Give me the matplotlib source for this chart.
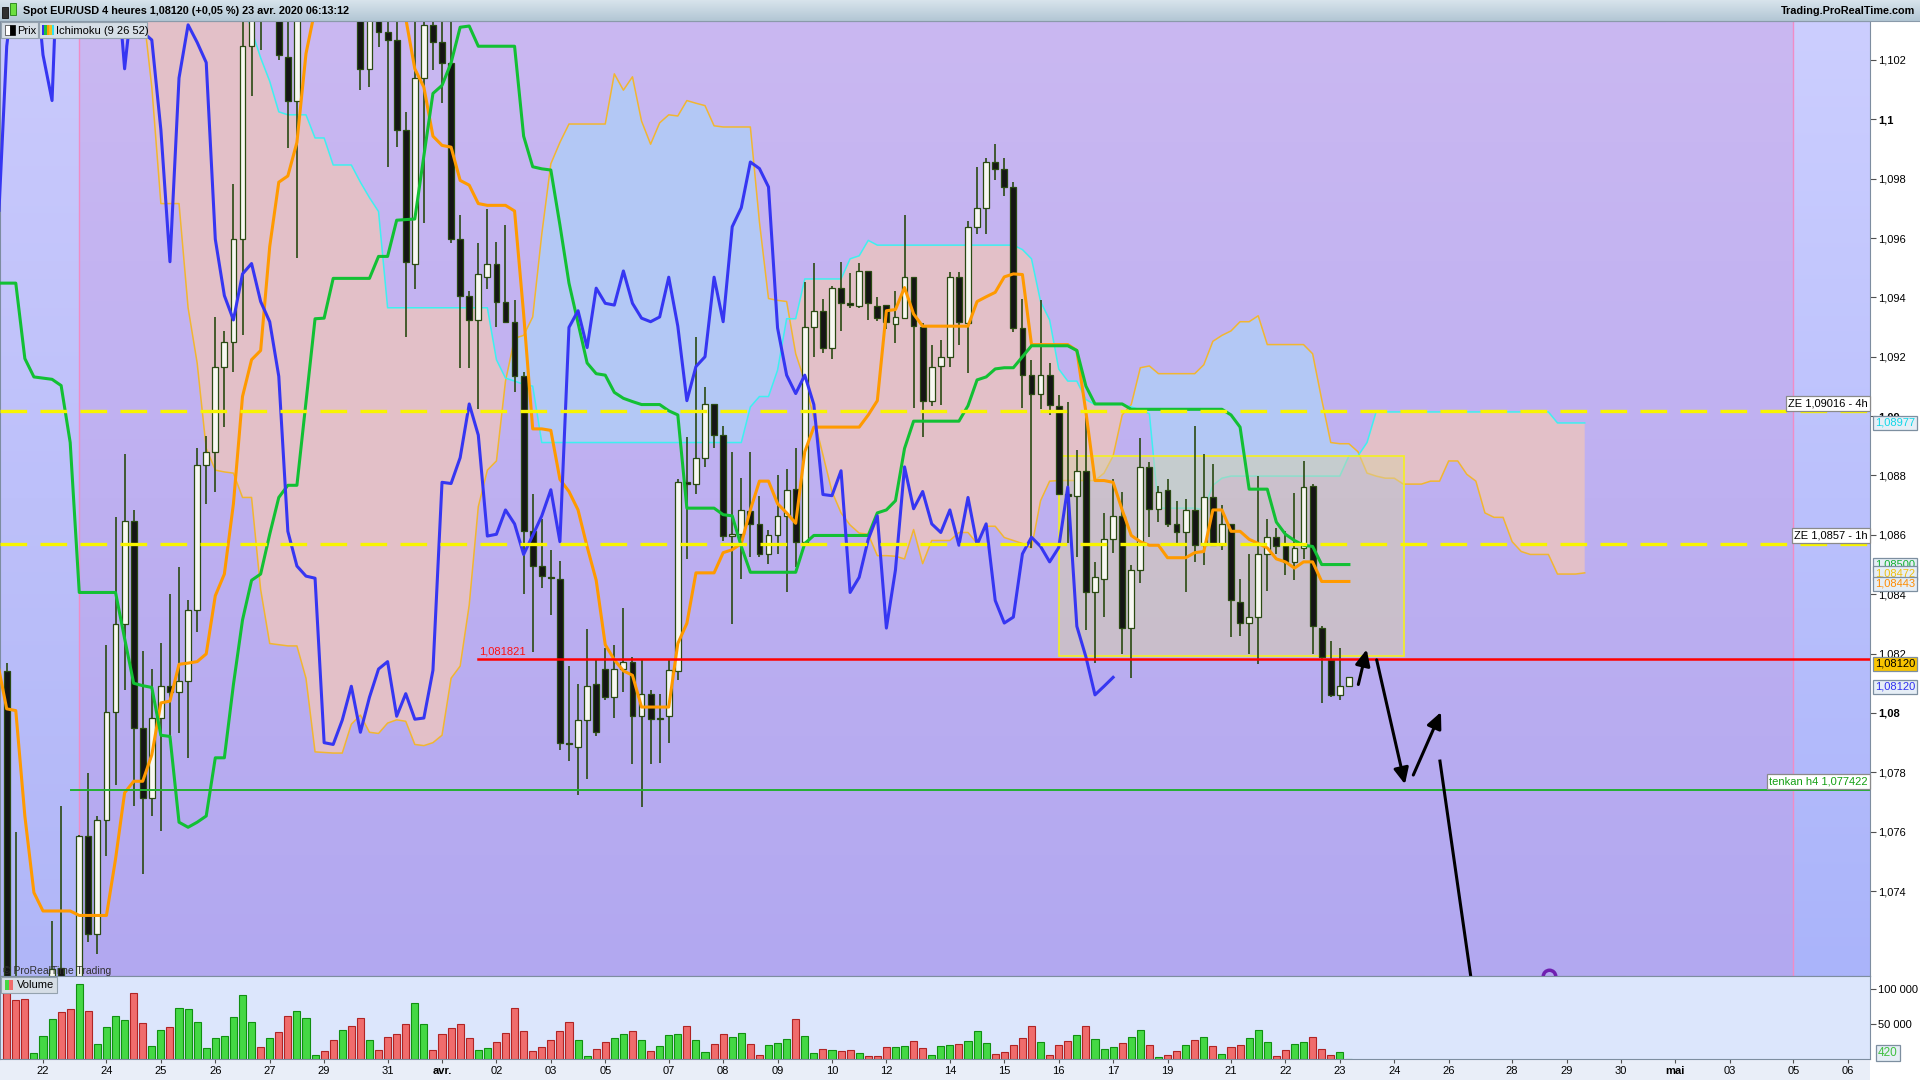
import numpy as np
import matplotlib.pyplot as plt
from matplotlib.patches import Rectangle
from matplotlib.transforms import blended_transform_factory

# ---------------------------------------------------------------------------
# EUR/USD 4h candles, bar index 0 = Sunday 22 March 2020
# ---------------------------------------------------------------------------
first_bar = -4
opens = [
    1.08141, 1.07000, 1.06900, 1.06800, 1.06950, 1.07000, 1.07141, 1.07000, 1.06900, 1.07585,
    1.07257, 1.07638, 1.08004, 1.08301, 1.08647, 1.07948, 1.07715, 1.07983, 1.08090, 1.08072,
    1.08107, 1.08346, 1.08835, 1.08880, 1.09167, 1.09248, 1.09596, 1.10246, 1.10500, 1.10400,
    1.10550, 1.10211, 1.10063, 1.10850, 1.11100, 1.11400, 1.11250, 1.10900, 1.11000, 1.10550,
    1.10170, 1.10450, 1.10294, 1.10267, 1.09964, 1.09514, 1.10139, 1.10318, 1.10259, 1.10191,
    1.09596, 1.09406, 1.09324, 1.09468, 1.09514, 1.09386, 1.09318, 1.09134, 1.08612, 1.08495,
    1.08458, 1.08453, 1.07900, 1.07886, 1.07976, 1.08096, 1.08148, 1.08053, 1.08148, 1.08173,
    1.07989, 1.08065, 1.07979, 1.07989, 1.08142, 1.08777, 1.08773, 1.08860, 1.09041, 1.08936,
    1.08596, 1.08602, 1.08680, 1.08637, 1.08534, 1.08598, 1.08664, 1.08756, 1.08577, 1.09299,
    1.09355, 1.09231, 1.09431, 1.09380, 1.09370, 1.09489, 1.09371, 1.09375, 1.09312, 1.09330,
    1.09468, 1.09299, 1.09052, 1.09169, 1.09200, 1.09468, 1.09314, 1.09638, 1.09702, 1.09856,
    1.09834, 1.09772, 1.09297, 1.09138, 1.09076, 1.09138, 1.09035, 1.08736, 1.08732, 1.08816,
    1.08406, 1.08453, 1.08585, 1.08664, 1.08286, 1.08482, 1.08829, 1.08688, 1.08752, 1.08637,
    1.08608, 1.08684, 1.08565, 1.08726, 1.08567, 1.08637, 1.08375, 1.08303, 1.08323, 1.08536,
    1.08592, 1.08561, 1.08509, 1.08557, 1.08763, 1.08286, 1.08179, 1.08061, 1.08090,
]
highs = [
    1.08170, 1.07599, 1.07050, 1.07000, 1.07080, 1.07298, 1.07686, 1.07100, 1.07590, 1.07797,
    1.07653, 1.08230, 1.08660, 1.08874, 1.08684, 1.08210, 1.08148, 1.08236, 1.08402, 1.08493,
    1.08379, 1.08891, 1.08932, 1.09334, 1.09287, 1.09782, 1.10340, 1.10600, 1.10650, 1.10700,
    1.10650, 1.10360, 1.10950, 1.11200, 1.11470, 1.11450, 1.11300, 1.11100, 1.11050, 1.10600,
    1.10550, 1.10500, 1.10400, 1.10350, 1.10026, 1.10340, 1.10450, 1.10400, 1.10400, 1.10400,
    1.09679, 1.09423, 1.09582, 1.09699, 1.09588, 1.09644, 1.09392, 1.09149, 1.08736, 1.08653,
    1.08550, 1.08511, 1.08158, 1.08096, 1.08282, 1.08183, 1.08220, 1.08230, 1.08354, 1.08189,
    1.08179, 1.08076, 1.08065, 1.08179, 1.08788, 1.08928, 1.09266, 1.09097, 1.09041, 1.08967,
    1.08878, 1.08792, 1.08878, 1.08730, 1.08618, 1.08802, 1.08823, 1.08891, 1.09452, 1.09516,
    1.09394, 1.09437, 1.09520, 1.09483, 1.09516, 1.09489, 1.09402, 1.09375, 1.09421, 1.09679,
    1.09468, 1.09314, 1.09238, 1.09258, 1.09485, 1.09485, 1.09658, 1.09840, 1.09871, 1.09916,
    1.09871, 1.09788, 1.09396, 1.09190, 1.09390, 1.09180, 1.09072, 1.09046, 1.08885, 1.09010,
    1.08509, 1.08674, 1.08788, 1.08746, 1.08499, 1.08926, 1.08845, 1.08763, 1.08788, 1.08715,
    1.08721, 1.08967, 1.08874, 1.08839, 1.08701, 1.08637, 1.08453, 1.08536, 1.08798, 1.08653,
    1.08622, 1.08612, 1.08740, 1.08849, 1.08773, 1.08292, 1.08241, 1.08220, 1.08120,
]
lows = [
    1.06900, 1.06800, 1.06600, 1.06750, 1.06800, 1.06900, 1.06800, 1.06650, 1.06800, 1.07230,
    1.07188, 1.07519, 1.07756, 1.08076, 1.07688, 1.07457, 1.07653, 1.07601, 1.07921, 1.07931,
    1.07849, 1.08272, 1.08705, 1.08746, 1.08963, 1.09149, 1.09272, 1.10077, 1.10232, 1.10350,
    1.10200, 1.09902, 1.09534, 1.10750, 1.11000, 1.11150, 1.10800, 1.10700, 1.10450, 1.10098,
    1.10108, 1.10242, 1.09840, 1.09906, 1.09266, 1.09427, 1.09650, 1.10166, 1.10056, 1.09582,
    1.09163, 1.09163, 1.09025, 1.09427, 1.09299, 1.09318, 1.09080, 1.08402, 1.08204, 1.08420,
    1.08329, 1.07875, 1.07838, 1.07725, 1.07776, 1.07921, 1.08045, 1.07983, 1.08070, 1.07828,
    1.07684, 1.07828, 1.07832, 1.07900, 1.08111, 1.08519, 1.08736, 1.08829, 1.08891, 1.08581,
    1.08299, 1.08453, 1.08525, 1.08525, 1.08503, 1.08534, 1.08406, 1.08493, 1.08577, 1.09200,
    1.09211, 1.09194, 1.09287, 1.09365, 1.09365, 1.09324, 1.09320, 1.09293, 1.09246, 1.09330,
    1.09029, 1.08928, 1.09035, 1.09039, 1.09165, 1.09238, 1.09145, 1.09613, 1.09613, 1.09794,
    1.09743, 1.09283, 1.09029, 1.08556, 1.09025, 1.09004, 1.08736, 1.08571, 1.08525, 1.08278,
    1.08169, 1.08323, 1.08540, 1.08200, 1.08117, 1.08437, 1.08592, 1.08643, 1.08627, 1.08561,
    1.08406, 1.08509, 1.08499, 1.08567, 1.08550, 1.08257, 1.08261, 1.08200, 1.08165, 1.08412,
    1.08536, 1.08464, 1.08447, 1.08519, 1.08200, 1.08034, 1.08055, 1.08045, 1.08086,
]
closes = [
    1.07000, 1.06900, 1.06800, 1.06950, 1.07050, 1.07137, 1.07000, 1.06900, 1.07585, 1.07257,
    1.07638, 1.08004, 1.08301, 1.08647, 1.07948, 1.07715, 1.07983, 1.08090, 1.08072, 1.08107,
    1.08346, 1.08835, 1.08880, 1.09167, 1.09248, 1.09596, 1.10246, 1.10500, 1.10400, 1.10550,
    1.10217, 1.10063, 1.10850, 1.11100, 1.11400, 1.11250, 1.10900, 1.11000, 1.10550, 1.10170,
    1.10450, 1.10294, 1.10267, 1.09964, 1.09520, 1.10139, 1.10318, 1.10259, 1.10191, 1.09596,
    1.09406, 1.09324, 1.09479, 1.09514, 1.09386, 1.09318, 1.09134, 1.08612, 1.08495, 1.08461,
    1.08454, 1.07900, 1.07894, 1.07976, 1.08090, 1.07935, 1.08053, 1.08148, 1.08173, 1.07989,
    1.08065, 1.07979, 1.07983, 1.08144, 1.08777, 1.08773, 1.08860, 1.09041, 1.08936, 1.08596,
    1.08602, 1.08684, 1.08637, 1.08534, 1.08598, 1.08664, 1.08752, 1.08577, 1.09299, 1.09355,
    1.09231, 1.09431, 1.09380, 1.09374, 1.09489, 1.09380, 1.09330, 1.09318, 1.09334, 1.09468,
    1.09303, 1.09052, 1.09167, 1.09200, 1.09468, 1.09318, 1.09638, 1.09702, 1.09856, 1.09834,
    1.09772, 1.09297, 1.09138, 1.09076, 1.09138, 1.09039, 1.08736, 1.08732, 1.08816, 1.08406,
    1.08457, 1.08585, 1.08664, 1.08286, 1.08482, 1.08829, 1.08688, 1.08746, 1.08637, 1.08608,
    1.08684, 1.08565, 1.08726, 1.08567, 1.08637, 1.08379, 1.08303, 1.08323, 1.08536, 1.08592,
    1.08561, 1.08509, 1.08557, 1.08761, 1.08292, 1.08189, 1.08061, 1.08090, 1.08120,
]
volumes = [
    93870, 84430, 85850, 8020, 33020, 57550, 66980, 71700, 107080, 68400,
    20750, 45750, 61320, 55660, 93870, 51420, 18870, 41510, 45750, 72640,
    71700, 52830, 16040, 30190, 33020, 59910, 91040, 52830, 17450, 30190,
    38680, 61320, 68400, 58490, 6130, 11790, 27360, 41510, 47170, 58490,
    27360, 13210, 31600, 35850, 50000, 79720, 50000, 12740, 35850, 44340,
    50000, 30190, 13210, 16040, 24530, 37740, 72640, 40090, 11790, 17450,
    27360, 40090, 52830, 27360, 4720, 14620, 24530, 30190, 35850, 40090,
    27360, 11790, 18870, 34430, 35850, 47170, 27360, 10380, 21700, 35850,
    31600, 37740, 21700, 6130, 20280, 23110, 28770, 57080, 33020, 8960,
    14620, 13210, 11790, 13210, 8960, 4720, 4720, 17450, 17450, 18870,
    25940, 16040, 6130, 18870, 20280, 20750, 25940, 40090, 23110, 7550,
    10380, 20280, 30190, 47170, 24530, 6130, 20280, 25940, 34430, 47170,
    28770, 14620, 17450, 23110, 31600, 41510, 20280, 3300, 6130, 11790,
    20280, 27360, 31600, 18870, 7550, 17450, 20280, 30190, 41510, 24530,
    4720, 13210, 21700, 24530, 31600, 14620, 6130, 10380, 420,
]

# Ichimoku (9 26 52), lines start at bar -5
first_line_bar = -5
tenkan = [
    1.08168, 1.08014, 1.08008, 1.07653, 1.07395, 1.07333, 1.07333, 1.07333, 1.07333, 1.07318,
    1.07318, 1.07318, 1.07318, 1.07508, 1.07731, 1.07770, 1.07770, 1.07859, 1.08034, 1.08040,
    1.08164, 1.08168, 1.08173, 1.08199, 1.08395, 1.08468, 1.08705, 1.09066, 1.09190, 1.09221,
    1.09571, 1.09788, 1.09809, 1.09922, 1.10221, 1.10370, 1.10690, 1.10500, 1.10500, 1.10500,
    1.10500, 1.10500, 1.10780, 1.10660, 1.10650, 1.10340, 1.10170, 1.10108, 1.09943, 1.09912,
    1.09906, 1.09794, 1.09778, 1.09716, 1.09710, 1.09710, 1.09710, 1.09691, 1.09344, 1.08957,
    1.08957, 1.08952, 1.08787, 1.08746, 1.08684, 1.08560, 1.08447, 1.08230, 1.08179, 1.08142,
    1.08127, 1.08020, 1.08020, 1.08020, 1.08020, 1.08234, 1.08302, 1.08472, 1.08472, 1.08472,
    1.08540, 1.08550, 1.08571, 1.08684, 1.08781, 1.08781, 1.08705, 1.08674, 1.08639, 1.08880,
    1.08963, 1.08963, 1.08963, 1.08963, 1.08963, 1.08963, 1.09004, 1.09052, 1.09355, 1.09359,
    1.09433, 1.09344, 1.09303, 1.09303, 1.09303, 1.09303, 1.09303, 1.09303, 1.09386, 1.09402,
    1.09417, 1.09469, 1.09479, 1.09477, 1.09241, 1.09241, 1.09241, 1.09241, 1.09241, 1.09221,
    1.09014, 1.08783, 1.08783, 1.08777, 1.08684, 1.08598, 1.08577, 1.08565, 1.08565, 1.08523,
    1.08523, 1.08523, 1.08540, 1.08544, 1.08684, 1.08684, 1.08612, 1.08612, 1.08585, 1.08571,
    1.08556, 1.08519, 1.08509, 1.08488, 1.08509, 1.08509, 1.08443, 1.08443, 1.08443, 1.08443,
]
kijun = [
    1.09448, 1.09448, 1.09448, 1.09194, 1.09132, 1.09128, 1.09124, 1.09103, 1.08911, 1.08406,
    1.08406, 1.08406, 1.08406, 1.08406, 1.08251, 1.08100, 1.08092, 1.08086, 1.07925, 1.07921,
    1.07632, 1.07615, 1.07632, 1.07653, 1.07849, 1.07849, 1.08096, 1.08313, 1.08447, 1.08468,
    1.08602, 1.08726, 1.08767, 1.08767, 1.09047, 1.09328, 1.09330, 1.09464, 1.09464, 1.09464,
    1.09464, 1.09464, 1.09538, 1.09538, 1.09660, 1.09662, 1.09664, 1.09877, 1.10087, 1.10114,
    1.10190, 1.10310, 1.10314, 1.10246, 1.10246, 1.10246, 1.10246, 1.10246, 1.09943, 1.09840,
    1.09833, 1.09829, 1.09644, 1.09448, 1.09314, 1.09179, 1.09143, 1.09138, 1.09080, 1.09060,
    1.09049, 1.09039, 1.09039, 1.09039, 1.09018, 1.09004, 1.08690, 1.08690, 1.08690, 1.08690,
    1.08668, 1.08664, 1.08561, 1.08474, 1.08474, 1.08474, 1.08474, 1.08474, 1.08474, 1.08571,
    1.08598, 1.08598, 1.08598, 1.08598, 1.08598, 1.08598, 1.08598, 1.08674, 1.08684, 1.08715,
    1.08891, 1.08983, 1.08983, 1.08983, 1.08983, 1.08983, 1.08983, 1.09035, 1.09122, 1.09132,
    1.09159, 1.09163, 1.09163, 1.09200, 1.09237, 1.09237, 1.09237, 1.09237, 1.09237, 1.09221,
    1.09101, 1.09041, 1.09041, 1.09041, 1.09041, 1.09023, 1.09023, 1.09023, 1.09023, 1.09023,
    1.09023, 1.09023, 1.09023, 1.09023, 1.09023, 1.09023, 1.09004, 1.08963, 1.08754, 1.08754,
    1.08754, 1.08643, 1.08602, 1.08581, 1.08565, 1.08561, 1.08500, 1.08500, 1.08500, 1.08500,
]
span_a = [
    1.10800, 1.10800, 1.10800, 1.10800, 1.10800, 1.10800, 1.10800, 1.10800, 1.10800, 1.10800,
    1.10800, 1.10800, 1.10800, 1.10800, 1.10800, 1.10800, 1.10380, 1.10108, 1.09716, 1.09716,
    1.09716, 1.09365, 1.09179, 1.08891, 1.08818, 1.08812, 1.08808, 1.08726, 1.08726, 1.08416,
    1.08234, 1.08230, 1.08226, 1.08226, 1.08117, 1.07869, 1.07867, 1.07865, 1.07865, 1.07962,
    1.07993, 1.07935, 1.07931, 1.07966, 1.07977, 1.07972, 1.07894, 1.07890, 1.07900, 1.07925,
    1.08117, 1.08158, 1.08364, 1.08695, 1.08818, 1.08849, 1.09118, 1.09262, 1.09272, 1.09334,
    1.09613, 1.09850, 1.09922, 1.09984, 1.09984, 1.09984, 1.09984, 1.09984, 1.10153, 1.10098,
    1.10143, 1.09994, 1.09916, 1.09988, 1.10015, 1.10011, 1.10063, 1.10054, 1.10046, 1.09978,
    1.09974, 1.09974, 1.09974, 1.09974, 1.09654, 1.09396, 1.09390, 1.09386, 1.09210, 1.09118,
    1.08994, 1.08870, 1.08746, 1.08674, 1.08633, 1.08606, 1.08602, 1.08530, 1.08530, 1.08528,
    1.08519, 1.08618, 1.08503, 1.08581, 1.08581, 1.08581, 1.08608, 1.08608, 1.08571, 1.08629,
    1.08629, 1.08591, 1.08581, 1.08571, 1.08556, 1.08715, 1.08781, 1.08783, 1.08783, 1.08783,
    1.08783, 1.08783, 1.08808, 1.08866, 1.09004, 1.09039, 1.09163, 1.09169, 1.09143, 1.09143,
    1.09143, 1.09143, 1.09143, 1.09173, 1.09252, 1.09272, 1.09287, 1.09318, 1.09318, 1.09338,
    1.09241, 1.09241, 1.09241, 1.09241, 1.09241, 1.09210, 1.09056, 1.08911, 1.08907, 1.08907,
    1.08880, 1.08808, 1.08798, 1.08791, 1.08791, 1.08771, 1.08771, 1.08771, 1.08781, 1.08781,
    1.08849, 1.08849, 1.08804, 1.08781, 1.08674, 1.08659, 1.08659, 1.08577, 1.08544, 1.08534,
    1.08534, 1.08534, 1.08468, 1.08468, 1.08468, 1.08472,
]
span_b = [
    1.10800, 1.10800, 1.10800, 1.10800, 1.10800, 1.10800, 1.10800, 1.10800, 1.10800, 1.10800,
    1.10800, 1.10800, 1.10800, 1.10800, 1.10800, 1.10800, 1.10800, 1.10800, 1.10800, 1.10800,
    1.10800, 1.10800, 1.10800, 1.10800, 1.10800, 1.10800, 1.10800, 1.10400, 1.10300, 1.10207,
    1.10128, 1.10025, 1.10015, 1.10015, 1.10015, 1.09937, 1.09937, 1.09846, 1.09846, 1.09846,
    1.09788, 1.09736, 1.09689, 1.09365, 1.09365, 1.09365, 1.09365, 1.09365, 1.09365, 1.09365,
    1.09365, 1.09365, 1.09365, 1.09365, 1.09365, 1.09190, 1.09128, 1.09118, 1.09107, 1.09101,
    1.08911, 1.08911, 1.08911, 1.08911, 1.08911, 1.08911, 1.08911, 1.08911, 1.08911, 1.08911,
    1.08911, 1.08911, 1.08911, 1.08911, 1.08911, 1.08911, 1.08911, 1.08911, 1.08911, 1.08911,
    1.08911, 1.08911, 1.08911, 1.09031, 1.09066, 1.09066, 1.09155, 1.09328, 1.09328, 1.09462,
    1.09462, 1.09462, 1.09462, 1.09462, 1.09530, 1.09540, 1.09592, 1.09576, 1.09576, 1.09576,
    1.09576, 1.09576, 1.09576, 1.09576, 1.09576, 1.09576, 1.09576, 1.09576, 1.09576, 1.09576,
    1.09576, 1.09576, 1.09576, 1.09561, 1.09530, 1.09386, 1.09324, 1.09159, 1.09118, 1.09118,
    1.09056, 1.09039, 1.09039, 1.09039, 1.09039, 1.09031, 1.09021, 1.09008, 1.08690, 1.08690,
    1.08690, 1.08690, 1.08690, 1.08684, 1.08767, 1.08791, 1.08798, 1.08798, 1.08798, 1.08798,
    1.08798, 1.08798, 1.08798, 1.08798, 1.08798, 1.08798, 1.08798, 1.08798, 1.08798, 1.08866,
    1.08866, 1.08911, 1.09014, 1.09014, 1.09014, 1.09014, 1.09014, 1.09014, 1.09014, 1.09014,
    1.09014, 1.09014, 1.09014, 1.09014, 1.09014, 1.09014, 1.09014, 1.09014, 1.09014, 1.09014,
    1.09014, 1.09014, 1.08977, 1.08977, 1.08977, 1.08977,
]
chikou_shift = 26

# date axis
date_ticks = [0, 7, 13, 19, 25, 31, 38, 44, 50, 56, 62, 69, 75, 81, 87, 93, 100,
              106, 112, 118, 124, 131, 137, 143, 149, 155, 162, 168, 174, 180, 186, 193, 199]
date_labels = ['22', '24', '25', '26', '27', '29', '31', 'avr.', '02', '03', '05', '07', '08',
               '09', '10', '12', '14', '15', '16', '17', '19', '21', '22', '23', '24', '26',
               '28', '29', '30', 'mai', '03', '05', '06']

# drawn objects
ze_levels = [1.09016, 1.0857]
ze_texts = ['ZE 1,09016 - 4h', 'ZE 1,0857 - 1h']
support_level = 1.081821
tenkan_h4_level = 1.077422
zone = (112.0, 150.1, 1.08192, 1.08867)          # x0, x1, y0, y1
arrows = [(145.04, 1.08096, 145.96, 1.08214),
          (147.06, 1.08179, 150.18, 1.07760),
          (151.1, 1.07791, 154.15, 1.08003)]
long_stroke = ([154.04, 157.73], [1.07838, 1.0705])

# ---------------------------------------------------------------------------
plt.rcParams['font.family'] = ['Liberation Sans', 'DejaVu Sans']

kc = np.arange(first_bar, first_bar + len(closes))
kl = np.arange(first_line_bar, first_line_bar + len(tenkan))
ks = np.arange(first_line_bar, first_line_bar + len(span_a))
o, h, l, c = map(np.array, (opens, highs, lows, closes))
up = c >= o
sa, sb = np.array(span_a), np.array(span_b)

X0, X1 = -4.74, 201.46
Y0, Y1 = 1.07114, 1.10331

fig = plt.figure(figsize=(19.2, 10.8), dpi=100, facecolor='white')
fig.patches.append(Rectangle((0, 0), 1870 / 1920, 21 / 1080, transform=fig.transFigure,
                             fc='#e9eef8', ec='none', zorder=-1))
ax = fig.add_axes([0, 104 / 1080, 1870 / 1920, 955 / 1080])
axv = fig.add_axes([0, 21 / 1080, 1870 / 1920, 83 / 1080])


def vgrad(a, x0, x1, y0, y1, top, bottom, z=0):
    t = np.linspace(0, 1, 200)[:, None, None]
    img = (np.array(top)[None, None, :] * (1 - t) + np.array(bottom)[None, None, :] * t) / 255
    a.imshow(img, extent=[x0, x1, y0, y1], aspect='auto', origin='upper', zorder=z,
             interpolation='bilinear')


vgrad(ax, X0, 4, Y0, Y1, (202, 202, 252), (176, 182, 248))
vgrad(ax, 4, 193, Y0, Y1, (202, 184, 242), (178, 168, 240))
vgrad(ax, 193, X1, Y0, Y1, (204, 206, 255), (170, 180, 250))
ax.axvline(4, color='#f08cc6', lw=1, zorder=1)
ax.axvline(193, color='#f08cc6', lw=1, zorder=1)

# cloud
ax.fill_between(ks, sa, sb, where=sb >= sa, interpolate=True, color='#e3c0c8', lw=0, zorder=1)
ax.fill_between(ks, sa, sb, where=sb < sa, interpolate=True, color='#b3c8f5', lw=0, zorder=1)
ax.plot(ks, sa, color='#f2b630', lw=1.1, zorder=2)
ax.plot(ks, sb, color='#3ef0f0', lw=1.1, zorder=2)

# yellow zone
ax.add_patch(Rectangle((zone[0], zone[2]), zone[1] - zone[0], zone[3] - zone[2],
                       fc='#d8d0a8', alpha=0.5, ec='none', zorder=3))
ax.add_patch(Rectangle((zone[0], zone[2]), zone[1] - zone[0], zone[3] - zone[2],
                       fc='none', ec='#f4f020', lw=1.2, zorder=3))

# candles
ax.vlines(kc, l, h, color='#2a4a12', lw=1.2, zorder=4)
body = np.maximum(np.abs(c - o), 0.00004)
ax.bar(kc, body, bottom=np.minimum(o, c), width=0.64,
       color=np.where(up, '#f8f8f2', '#151515'), edgecolor='#2a4a12', lw=0.9, zorder=5)

# ichimoku lines
ax.plot(kl, tenkan, color='#ff9a00', lw=2.2, zorder=6)
ax.plot(kl, kijun, color='#12c034', lw=2.2, zorder=6)
ax.plot(kc - chikou_shift, c, color='#3636f2', lw=2.2, zorder=6)

# horizontal levels
for lv in ze_levels:
    ax.plot([X0, X1], [lv, lv], color='#f8f400', lw=2.4, ls=(0, (8, 4)), zorder=7)
ax.plot([48.0, X1], [support_level] * 2, color='#ff0000', lw=1.8, zorder=7)
ax.plot([3.1, X1], [tenkan_h4_level] * 2, color='#22b030', lw=1.4, zorder=7)
ax.annotate('1,081821', xy=(48.1, support_level), xytext=(0, 1.5), textcoords='offset points',
            color='#ff1010', fontsize=8, ha='left', va='bottom', zorder=8)

# hand drawn arrows
for x0, y0, x1, y1 in arrows:
    ax.annotate('', xy=(x1, y1), xytext=(x0, y0), zorder=9,
                arrowprops=dict(arrowstyle='-|>,head_length=0.6,head_width=0.28',
                                mutation_scale=16, color='black', lw=2.2,
                                shrinkA=0, shrinkB=0))
ax.plot(*long_stroke, color='black', lw=2.2, zorder=9)
ax.plot([166.1], [Y0], marker='o', ms=9, mfc='none', mec='#7020b0', mew=2.5, zorder=9)

ax.set_xlim(X0, X1)
ax.set_ylim(Y0, Y1)

# price axis
ticks = np.round(np.arange(1.074, 1.1021, 0.002), 3)
ax.yaxis.tick_right()
ax.set_yticks(ticks)
ax.set_yticklabels([f'{t:.3f}'.rstrip('0').replace('.', ',') for t in ticks])
for t, lab in zip(ticks, ax.get_yticklabels()):
    if abs(t * 100 - round(t * 100)) < 1e-6:
        lab.set_fontweight('bold')
ax.tick_params(axis='y', right=True, left=False, labelright=True, labelleft=False,
               length=4, width=0.8, color='#505050', labelsize=8, pad=2)
ax.tick_params(axis='x', bottom=False, labelbottom=False)
for s in ax.spines.values():
    s.set_color('#7d8da0')

tr = blended_transform_factory(fig.transFigure, ax.transData)
for lv, txt in zip(ze_levels, ze_texts):
    ax.annotate(txt, xy=(1868 / 1920, lv), xycoords=tr, xytext=(0, 2.2), textcoords='offset points',
                ha='right', va='bottom', fontsize=8, zorder=12, annotation_clip=False,
                bbox=dict(boxstyle='square,pad=0.2', fc='white', ec='#8a8a8a', lw=0.9))
ax.annotate('tenkan h4 1,077422', xy=(1868 / 1920, tenkan_h4_level), xycoords=tr, xytext=(0, 2.2),
            textcoords='offset points', ha='right', va='bottom', fontsize=8, color='#14a014',
            zorder=12, annotation_clip=False,
            bbox=dict(boxstyle='square,pad=0.2', fc='white', ec='#8a8a8a', lw=0.9))


def fmt(v):
    return f'{v:.5f}'.replace('.', ',')


value_boxes = [
    (span_b[-1], '#10d8e8', '#e6eef6', 0),
    (kijun[-1], '#10b030', '#e6eef6', 0),
    (span_a[-1], '#f0c010', '#e6eef6', 0.5),
    (tenkan[-1], '#ff8c00', '#e6eef6', 2.5),
    (closes[-1], 'black', '#f8c400', -13.5),
    (closes[-1], '#3030f0', '#e6eef6', 9.5),
]
for v, col, fc, dy in value_boxes:
    ax.annotate(fmt(v), xy=(1875 / 1920, v), xycoords=tr, xytext=(0, -dy * 0.72),
                textcoords='offset points', ha='left', va='center', fontsize=8, color=col,
                zorder=20, annotation_clip=False,
                bbox=dict(boxstyle='square,pad=0.18', fc=fc, ec='#7d8fa0', lw=0.9))

# volume pane
axv.set_facecolor('#dce6fc')
axv.bar(kc, volumes, width=0.78, color=np.where(up, '#44d844', '#f06c6c'),
        edgecolor=np.where(up, '#119011', '#b02424'), lw=0.8)
axv.set_xlim(X0, X1)
axv.set_ylim(0, 118500)
axv.yaxis.tick_right()
axv.set_yticks([50000, 100000])
axv.set_yticklabels(['50 000', '100 000'])
axv.tick_params(axis='y', right=True, left=False, labelright=True, labelleft=False,
                length=4, width=0.8, color='#505050', labelsize=8, pad=2)
axv.set_xticks(date_ticks)
axv.set_xticklabels(date_labels)
axv.tick_params(axis='x', bottom=True, length=3, width=0.8, color='#505050', labelsize=8, pad=2)
for lab in axv.get_xticklabels():
    if lab.get_text() in ('avr.', 'mai'):
        lab.set_fontweight('bold')
for s in axv.spines.values():
    s.set_color('#7d8da0')

# overlay: header and legends (pixel coordinates)
oax = fig.add_axes([0, 0, 1, 1], zorder=10)
oax.axis('off')
vgrad(oax, 0, 1920, 21, 0, (216, 228, 236), (178, 198, 212))
oax.plot([0, 1920], [21, 21], color='#8a9aaa', lw=0.8)
oax.add_patch(Rectangle((2, 7), 6, 11, fc='#303030', ec='#101010', lw=0.6))
oax.add_patch(Rectangle((10, 3), 6, 12, fc='#6ce040', ec='#208010', lw=0.6))
oax.text(23, 10.5, 'Spot EUR/USD 4 heures 1,08120 (+0,05 %) 23 avr. 2020 06:13:12',
         fontsize=7.8, fontweight='bold', va='center', ha='left')
oax.text(1915, 10.5, 'Trading.ProRealTime.com', fontsize=7.8, fontweight='bold',
         va='center', ha='right')

oax.add_patch(Rectangle((1, 22), 37, 16, fc='#d6dee6', ec='#94a2ae', lw=0.8))
oax.add_patch(Rectangle((5, 25), 5, 10, fc='white', ec='#333333', lw=0.5))
oax.add_patch(Rectangle((10, 25), 5, 10, fc='black', ec='black', lw=0.5))
oax.text(17, 30.5, 'Prix', fontsize=8, va='center')
oax.add_patch(Rectangle((39, 22), 108, 16, fc='#d6dee6', ec='#94a2ae', lw=0.8))
for i, col in enumerate(['#3030f0', '#20c040', '#ff9900', '#f0c020', '#30e0f0']):
    oax.add_patch(Rectangle((42 + i * 2.4, 25), 2.4, 10, fc=col, ec='none'))
oax.text(56, 30.5, 'Ichimoku (9 26 52)', fontsize=8, va='center')

oax.text(3, 971, '\u00a9 ProRealTime Trading', fontsize=7.5, va='center', color='#303030')
oax.add_patch(Rectangle((1, 977), 56, 16, fc='#d6dee6', ec='#94a2ae', lw=0.8))
oax.add_patch(Rectangle((5, 980), 4, 10, fc='#44d844', ec='none'))
oax.add_patch(Rectangle((9, 980), 4, 10, fc='#f06c6c', ec='none'))
oax.text(17, 985.5, 'Volume', fontsize=8, va='center')
oax.text(1878, 1053, '420', fontsize=8.5, va='center', color='#40c040',
         bbox=dict(boxstyle='square,pad=0.2', fc='#e6eef6', ec='#7d8fa0', lw=0.9))
oax.set_xlim(0, 1920)
oax.set_ylim(1080, 0)

fig.savefig('out.png', dpi=100)
